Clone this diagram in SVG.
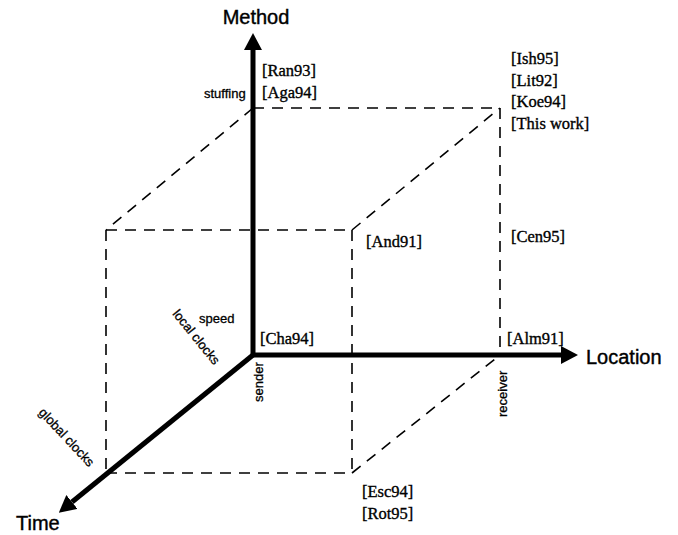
<svg xmlns="http://www.w3.org/2000/svg" width="678" height="535" viewBox="0 0 678 535">
  <defs>
    <marker id="head" markerWidth="3.4" markerHeight="3.6" refX="0" refY="1.8" orient="auto" markerUnits="strokeWidth">
      <path d="M0,0 L3.4,1.8 L0,3.6 Z" fill="#000"/>
    </marker>
    <style>
      .axis { stroke: #000; stroke-width: 5; fill: none; }
      .dash { stroke: #000; stroke-width: 1.6; fill: none; stroke-dasharray: 11 8; }
      .title { font-family: "Liberation Sans", Arial, sans-serif; font-size: 20px; fill: #000; stroke: #000; stroke-width: 0.4; }
      .ref { font-family: "Liberation Serif", "Times New Roman", serif; font-size: 16.5px; fill: #000; stroke: #000; stroke-width: 0.35; }
      .small { font-family: "Liberation Sans", Arial, sans-serif; font-size: 13px; fill: #000; stroke: #000; stroke-width: 0.3; }
    </style>
  </defs>
  <rect width="678" height="535" fill="#fff"/>

  <!-- dashed cube and the three axes -->
  <g id="connectors">
    <path class="dash" d="M253,108 L500,108"/>
    <path class="dash" d="M253,108 L106,230"/>
    <path class="dash" d="M106,230 L352,230"/>
    <path class="dash" d="M352,230 L500,108"/>
    <path class="dash" d="M500,108 L500,355"/>
    <path class="dash" d="M106,230 L106,473"/>
    <path class="dash" d="M352,230 L352,473"/>
    <path class="dash" d="M106,473 L352,473"/>
    <path class="dash" d="M352,473 L500,355"/>

    <path class="axis" d="M253,355 L253,50" marker-end="url(#head)"/>
    <path class="axis" d="M253,355 L561,355" marker-end="url(#head)"/>
    <path class="axis" d="M253,355 L72,502" marker-end="url(#head)"/>
  </g>

  <g id="axis-method"><text class="title" x="256" y="24" text-anchor="middle">Method</text></g>
  <g id="axis-location"><text class="title" x="586" y="364">Location</text></g>
  <g id="axis-time"><text class="title" x="16" y="530">Time</text></g>

  <g id="method-labels">
    <text class="small" x="204" y="98">stuffing</text>
    <text class="small" x="199" y="323">speed</text>
  </g>
  <g id="time-labels">
    <text class="small" transform="translate(172,314) rotate(51)" x="0" y="0">local clocks</text>
    <text class="small" transform="translate(38,413) rotate(47)" x="0" y="0">global clocks</text>
  </g>
  <g id="location-labels">
    <text class="small" transform="translate(263,402) rotate(-90)" x="0" y="0">sender</text>
    <text class="small" transform="translate(507,417) rotate(-90)" x="0" y="0">receiver</text>
  </g>

  <g id="ref-origin-method">
    <text class="ref" x="262" y="76">[Ran93]</text>
    <text class="ref" x="262" y="98">[Aga94]</text>
  </g>
  <g id="ref-corner">
    <text class="ref" x="511" y="64">[Ish95]</text>
    <text class="ref" x="511" y="86">[Lit92]</text>
    <text class="ref" x="511" y="107">[Koe94]</text>
    <text class="ref" x="511" y="129">[This work]</text>
  </g>
  <g id="ref-and91"><text class="ref" x="366" y="247">[And91]</text></g>
  <g id="ref-cen95"><text class="ref" x="511" y="242">[Cen95]</text></g>
  <g id="ref-cha94"><text class="ref" x="260" y="344">[Cha94]</text></g>
  <g id="ref-alm91"><text class="ref" x="507" y="344">[Alm91]</text></g>
  <g id="ref-front">
    <text class="ref" x="362" y="497">[Esc94]</text>
    <text class="ref" x="362" y="519">[Rot95]</text>
  </g>
</svg>
